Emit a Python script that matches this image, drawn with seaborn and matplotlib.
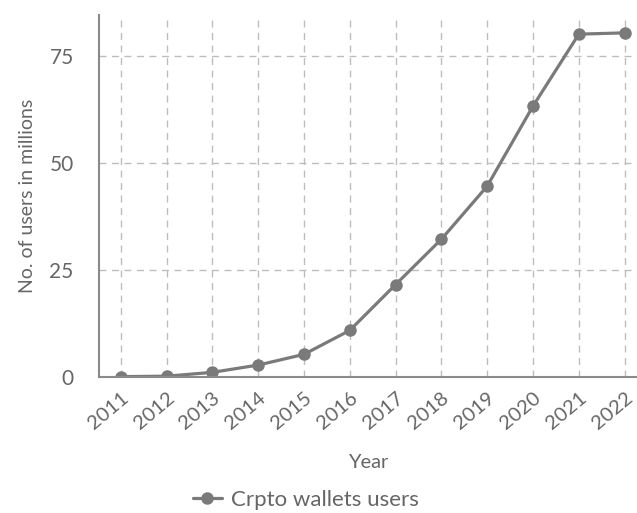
import matplotlib
matplotlib.use("Agg")
import matplotlib.pyplot as plt
import seaborn as sns
import pandas as pd

# datos
years = [2011, 2012, 2013, 2014, 2015, 2016, 2017, 2018, 2019, 2020, 2021, 2022]
users = [0.1, 0.2, 1.1, 2.8, 5.3, 10.9, 21.6, 32.2, 44.6, 63.3, 80.1, 80.4]
y_ticks = [0, 25, 50, 75]
series_name = "Crpto wallets users"

df = pd.DataFrame({"Year": years, "Users": users, "serie": series_name})

sns.set_theme(style="white")
plt.rcParams['font.family'] = ['Lato', 'DejaVu Sans']

grey = "#7a7a7a"
text_grey = "#666666"

fig = plt.figure(figsize=(6.37, 5.13), dpi=100)
ax = fig.add_axes([0.155, 0.265, 0.845, 0.706])

sns.lineplot(data=df, x="Year", y="Users", hue="serie", palette=[grey],
             marker="o", markersize=9, markeredgewidth=0, linewidth=2.3, ax=ax)

ax.set_xlim(2010.52, 2022.27)
ax.set_ylim(0, 84.6)
ax.set_xticks(years)
ax.set_xticklabels([str(y) for y in years], rotation=40, ha="right",
                   rotation_mode="anchor")
ax.set_yticks(y_ticks)

ax.grid(True, linestyle=(0, (5, 4)), color="#bdbdbd", linewidth=1)
ax.tick_params(axis="y", length=0, pad=18, labelsize=15, labelcolor=text_grey)
ax.tick_params(axis="x", length=0, pad=9, labelsize=14.5, labelcolor=text_grey)

for s in ["top", "right"]:
    ax.spines[s].set_visible(False)
for s in ["left", "bottom"]:
    ax.spines[s].set_color("#8a8a8a")
    ax.spines[s].set_linewidth(1.5)

ax.set_xlabel("Year", fontsize=14.5, color=text_grey, labelpad=15)
ax.set_ylabel("No. of users in millions", fontsize=14, color=text_grey, labelpad=10)

# leyenda abajo, fuera de los ejes
handles, labels = ax.get_legend_handles_labels()
ax.get_legend().remove()
leg = fig.legend(handles, labels, loc="center", bbox_to_anchor=(0.48, 0.026),
                 frameon=False, fontsize=16, handlelength=1.3, handletextpad=0.4,
                 borderpad=0, borderaxespad=0)
for t in leg.get_texts():
    t.set_color(text_grey)

fig.savefig("out.png", dpi=100)
